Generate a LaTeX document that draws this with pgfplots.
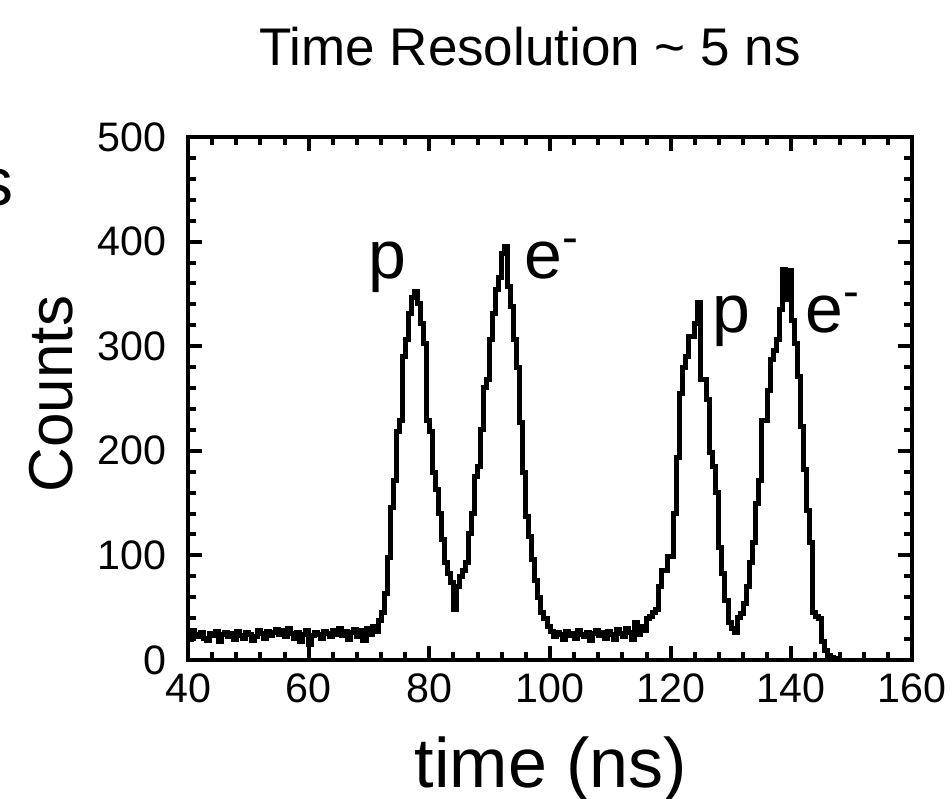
\documentclass[border=0pt]{standalone}
\usepackage{fontspec}
\setmainfont{Liberation Sans}
\usepackage{pgfplots}
\usepackage{pgfplotstable}
\pgfplotsset{compat=1.18}

% time-of-flight histogram, 0.5 ns bins (left edge, counts)
\pgfplotstableread{
t counts
40.0 20
40.5 28
41.0 24
41.5 22
42.0 26
42.5 21
43.0 19
43.5 25
44.0 23
44.5 27
45.0 18
45.5 24
46.0 26
46.5 22
47.0 25
47.5 20
48.0 27
48.5 23
49.0 21
49.5 26
50.0 24
50.5 19
51.0 22
51.5 28
52.0 25
52.5 21
53.0 27
53.5 23
54.0 26
54.5 29
55.0 24
55.5 28
56.0 22
56.5 30
57.0 25
57.5 21
58.0 26
58.5 18
59.0 24
59.5 28
60.0 15
60.5 23
61.0 26
61.5 24
62.0 21
62.5 27
63.0 25
63.5 22
64.0 28
64.5 24
65.0 30
65.5 23
66.0 27
66.5 20
67.0 26
67.5 29
68.0 22
68.5 28
69.0 19
69.5 30
70.0 24
70.5 32
71.0 27
71.5 38
72.0 45
72.5 64
73.0 98
73.5 146
74.0 172
74.5 218
75.0 229
75.5 290
76.0 306
76.5 331
77.0 347
77.5 352
78.0 341
78.5 322
79.0 303
79.5 229
80.0 218
80.5 179
81.0 163
81.5 140
82.0 115
82.5 93
83.0 83
83.5 74
84.0 48
84.5 70
85.0 80
85.5 86
86.0 93
86.5 121
87.0 140
87.5 175
88.0 185
88.5 220
89.0 261
89.5 268
90.0 306
90.5 331
91.0 354
91.5 366
92.0 389
92.5 395
93.0 357
93.5 338
94.0 306
94.5 280
95.0 227
95.5 179
96.0 137
96.5 118
97.0 96
97.5 76
98.0 60
98.5 45
99.0 40
99.5 32
100.0 27
100.5 22
101.0 26
101.5 24
102.0 20
102.5 27
103.0 23
103.5 25
104.0 21
104.5 28
105.0 24
105.5 22
106.0 26
106.5 19
107.0 25
107.5 28
108.0 23
108.5 26
109.0 21
109.5 27
110.0 24
110.5 20
111.0 29
111.5 25
112.0 22
112.5 30
113.0 26
113.5 20
114.0 36
114.5 24
115.0 32
115.5 28
116.0 40
116.5 42
117.0 45
117.5 48
118.0 70
118.5 86
119.0 86
119.5 99
120.0 99
120.5 140
121.0 194
121.5 255
122.0 280
122.5 290
123.0 309
123.5 309
124.0 322
124.5 342
125.0 268
125.5 268
126.0 249
126.5 198
127.0 185
127.5 160
128.0 108
128.5 83
129.0 57
129.5 36
130.0 30
130.5 26
131.0 41
131.5 44
132.0 54
132.5 70
133.0 93
133.5 112
134.0 150
134.5 172
135.0 229
135.5 229
136.0 258
136.5 287
137.0 296
137.5 306
138.0 335
138.5 373
139.0 345
139.5 372
140.0 325
140.5 303
141.0 271
141.5 223
142.0 182
142.5 143
143.0 112
143.5 45
144.0 42
144.5 40
145.0 18
145.5 9
146.0 4
146.5 2
147.0 1
147.5 0
160.0 0
}\tof

\begin{document}
\begin{tikzpicture}
\begin{axis}[
  scale only axis,
  width=181pt, height=130.75pt,
  xmin=40, xmax=160, ymin=0, ymax=500,
  xtick={40,60,...,160}, ytick={0,100,...,500},
  minor x tick num=4, minor y tick num=4,
  tick align=inside,
  xtick pos=both, ytick pos=both,
  major tick length=3.6pt, minor tick length=2pt,
  every tick/.style={black, line width=1pt},
  axis line style={line width=1.2pt},
  tick label style={font=\fontsize{10.3}{12}\selectfont},
  /pgf/number format/assume math mode=true,
  yticklabel style={xshift=-1.8pt},
  scaled ticks=false,
]
\addplot[const plot mark left, black, line width=1.25pt, line join=miter] table[x=t, y=counts] {\tof};

\node[anchor=base west, inner sep=0, font=\fontsize{17}{20}\selectfont] at (axis cs:69.84,365) {p};
\node[anchor=base west, inner sep=0, font=\fontsize{17}{20}\selectfont] at (axis cs:95.69,365) {e\textsuperscript{-}};
\node[anchor=base west, inner sep=0, font=\fontsize{17}{20}\selectfont] at (axis cs:126.86,313) {p};
\node[anchor=base west, inner sep=0, font=\fontsize{17}{20}\selectfont] at (axis cs:142.27,313) {e\textsuperscript{-}};

\coordinate (bbl) at (rel axis cs:-0.2597,-0.2639);
\coordinate (btr) at (rel axis cs:1.0552,1.2620);
\coordinate (ttl) at (rel axis cs:0.4724,1.1358);
\coordinate (ylab) at (rel axis cs:-0.1602,0.5086);
\coordinate (xlab) at (rel axis cs:0.5014,-0.2447);
\coordinate (cut) at (rel axis cs:-0.2403,0.870);
\end{axis}
\node[anchor=base, inner sep=0, font=\fontsize{13.25}{16}\selectfont] at (ttl) {Time Resolution \textasciitilde{} 5 ns};
\node[anchor=base, rotate=90, inner sep=0, font=\fontsize{15.5}{18}\selectfont] at (ylab) {Counts};
\node[anchor=base, inner sep=0, font=\fontsize{17.5}{20}\selectfont] at (xlab) {time (ns)};
\node[anchor=base east, inner sep=0, font=\fontsize{17}{20}\selectfont] at (cut) {s};
\pgfresetboundingbox
\path[use as bounding box] (bbl) rectangle (btr);
\end{tikzpicture}
\end{document}
